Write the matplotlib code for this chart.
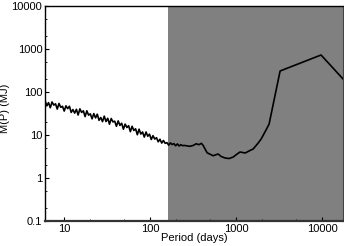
import numpy as np
import matplotlib
matplotlib.use("Agg")
from matplotlib import pyplot as plt
from matplotlib.ticker import LogLocator, FixedLocator, FixedFormatter, NullFormatter

plt.rcParams['font.family'] = ['Liberation Sans', 'DejaVu Sans']

# dense, noisy part (periods sampled evenly in log from 6 to 250 days)
p_dense = np.geomspace(6.0, 250.0, 81)
m_dense = [63.0, 47.5, 56.5, 43.0, 58.5, 49.5, 53.0, 40.0, 54.0, 44.0,
           46.5, 36.0, 47.5, 41.0, 46.5, 33.5, 39.0, 32.3, 39.5, 29.2,
           40.5, 33.5, 36.5, 26.8, 36.5, 29.0, 31.0, 23.8, 31.5, 25.0,
           30.5, 22.0, 25.5, 20.5, 27.5, 20.6, 24.5, 17.9, 24.2, 20.2,
           21.0, 16.0, 21.3, 16.8, 18.8, 13.7, 18.0, 15.0, 16.5, 12.0,
           16.0, 12.8, 14.0, 10.2, 13.7, 10.6, 11.8, 9.0, 11.8, 9.4,
           10.5, 7.9, 9.7, 8.1, 8.7, 7.0, 8.0, 6.55, 7.5, 6.45,
           6.7, 5.85, 6.6, 6.05, 6.35, 5.65, 6.25, 5.6, 5.98, 5.7,
           5.77]

# sparse part
p_sparse = [290, 320, 343, 370, 395, 413, 460, 541, 580, 618, 670, 745, 830,
            923, 1030, 1110, 1200, 1275, 1450, 1580, 1800, 1955, 2200, 2420,
            3250, 9730, 17500]
m_sparse = [5.5, 5.8, 6.3, 6.0, 6.45, 5.8, 3.9, 3.33, 3.5, 3.65, 3.2, 2.95, 2.87,
            3.1, 3.66, 4.06, 3.95, 3.85, 4.4, 4.77, 6.5, 8.1, 12.5, 18,
            305, 715, 200]

shade_start = 162
xlim = (6.0, 17500)
ylim = (0.1, 10000)
yticks = [0.1, 1, 10, 100, 1000, 10000]
ylabels = ["0.1", "1", "10", "100", "1000", "10000"]
xticks = [10, 100, 1000, 10000]
xlabels = ["10", "100", "1000", "10000"]

fig = plt.figure(figsize=(3.44, 2.46), dpi=100)
ax = fig.add_axes([0.131, 0.0996, 0.866, 0.8780])

ax.axvspan(shade_start, xlim[1], color='#808080', lw=0, zorder=0)

period = np.concatenate([p_dense, p_sparse])
mass = np.concatenate([m_dense, m_sparse])
ax.plot(period, mass, color='black', lw=1.2, zorder=2)

ax.set_xscale('log')
ax.set_yscale('log')
ax.set_xlim(*xlim)
ax.set_ylim(*ylim)

ax.yaxis.set_major_locator(FixedLocator(yticks))
ax.yaxis.set_major_formatter(FixedFormatter(ylabels))
ax.xaxis.set_major_locator(FixedLocator(xticks))
ax.xaxis.set_major_formatter(FixedFormatter(xlabels))
ax.xaxis.set_minor_locator(LogLocator(base=10, subs=(2, 5)))
ax.yaxis.set_minor_locator(LogLocator(base=10, subs=(2, 5)))
ax.xaxis.set_minor_formatter(NullFormatter())
ax.yaxis.set_minor_formatter(NullFormatter())

ax.tick_params(which='major', direction='in', length=3, width=0.8,
               labelsize=8, pad=2, top=False, right=False)
ax.tick_params(which='minor', direction='in', length=1.5, width=0.6,
               top=False, right=False)

for side in ['left', 'top']:
    ax.spines[side].set_linewidth(1.0)
ax.spines['bottom'].set_linewidth(1.6)
ax.spines['bottom'].set_color('#333333')
ax.spines['right'].set_color('#444444')

ax.set_xlabel('Period (days)', fontsize=8, labelpad=-1)
ax.set_ylabel('M(P) (MJ)', fontsize=8)
ax.yaxis.set_label_coords(-0.117, 0.525)

plt.savefig("out.png", dpi=100)
